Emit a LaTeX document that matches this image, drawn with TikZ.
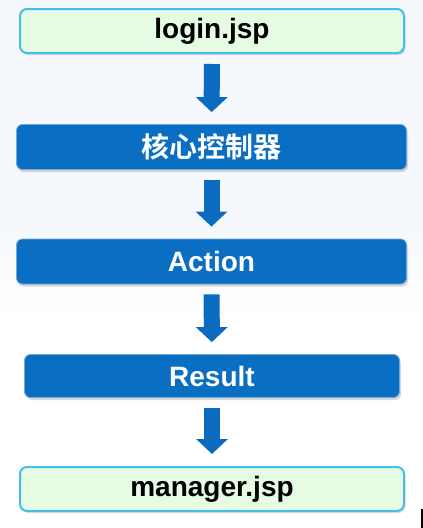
\documentclass[tikz,border=0pt]{standalone}
\usepackage{fontspec}
\setmainfont{Liberation Sans}
\newfontfamily\cjk{Noto Sans CJK SC}[BoldFont={Noto Sans CJK SC Bold}]
\usepackage{xcolor}
\usetikzlibrary{arrows.meta,shadows}

\definecolor{pagefill}{HTML}{F5F8FC}
\definecolor{stepblue}{HTML}{0A6FC2}
\definecolor{arrowblue}{HTML}{0B6BBF}
\definecolor{pagegreen}{HTML}{E6FBE4}
\definecolor{pageedge}{HTML}{45BDE8}

\tikzset{
    pagebox/.style={draw=pageedge, line width=2pt, fill=pagegreen, rounded corners=7pt,
        minimum width=384pt, minimum height=44pt, inner sep=0pt,
        font=\fontsize{28}{30}\selectfont\bfseries, text=black,
        drop shadow={opacity=0.25, shadow xshift=1.5pt, shadow yshift=-2pt}},
    flowbox/.style={draw=stepblue!60!white, line width=0.8pt, fill=stepblue, rounded corners=6pt,
        minimum width=390pt, minimum height=45pt, inner sep=0pt,
        font=\fontsize{28}{30}\selectfont\bfseries, text=white,
        drop shadow={opacity=0.3, shadow xshift=1.5pt, shadow yshift=-2.5pt}},
    blockarrow/.style={arrowblue, line width=16pt, -{Triangle[width=31pt,length=15pt]},
        shorten <=10pt, shorten >=12pt}
}

\begin{document}
\begin{tikzpicture}[x=1pt,y=-1pt]
    % background
    \useasboundingbox (0,0) rectangle (423,528);
    \fill[white] (0,0) rectangle (423,528);
    \fill[pagefill] (0,0) rectangle (423,220);
    \shade[top color=pagefill, bottom color=white] (0,220) rectangle (423,320);
    \fill[black] (421,509) rectangle (423,528);

    % steps
    \node[pagebox] (login) at (212,31) {login.jsp};
    \node[flowbox] (core) at (211.5,147) {\cjk\bfseries 核心控制器};
    \node[flowbox] (action) at (211.5,261.5) {Action};
    \node[flowbox, minimum width=375pt, minimum height=43pt] (result) at (212,376) {Result};
    \node[pagebox] (manager) at (212,489) {manager.jsp};

    % arrows
    \foreach \a/\b in {login/core, core/action, action/result, result/manager}
        \draw[blockarrow] (\a) -- (\b);
\end{tikzpicture}
\end{document}
